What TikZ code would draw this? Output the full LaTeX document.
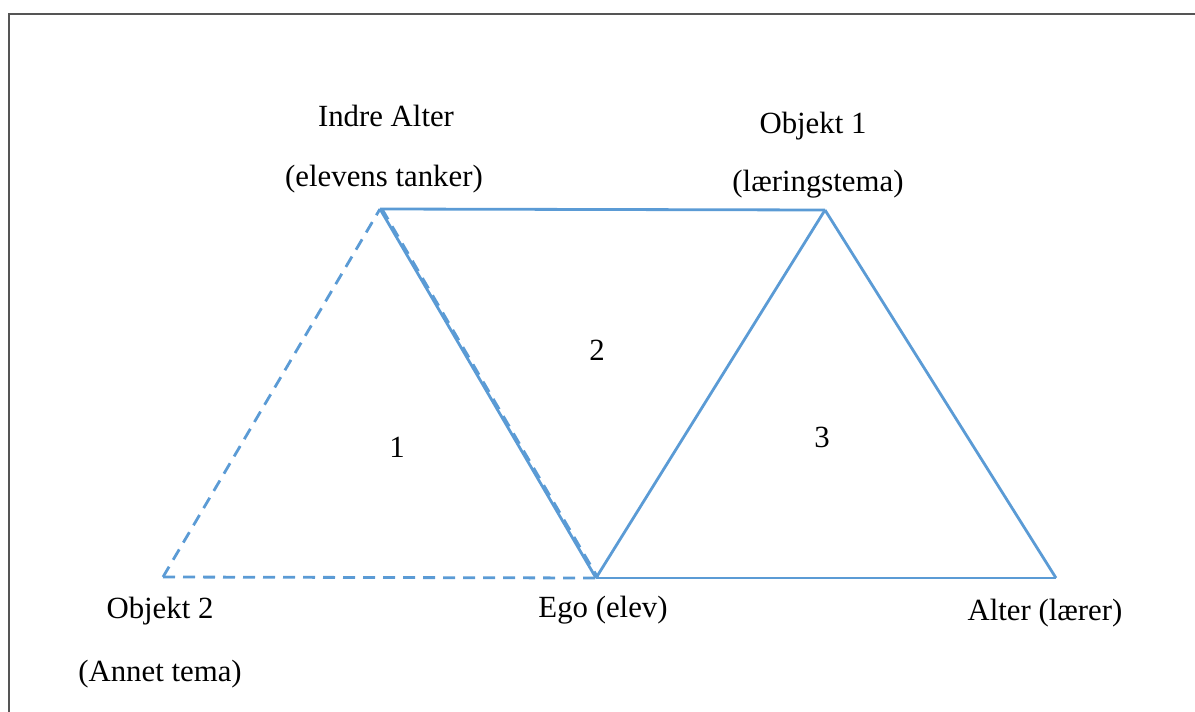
\documentclass[tikz,border=0pt]{standalone}
\usepackage{fontspec}
\setmainfont{Liberation Serif}
\definecolor{tri}{HTML}{5B9BD5}
\definecolor{frame}{HTML}{555555}
\begin{document}
\begin{tikzpicture}[x=0.5pt,y=-0.5pt,
  edge/.style={draw=tri,line width=1.4pt,line join=round},
  dashedge/.style={draw=tri,line width=1.4pt,dash pattern=on 6pt off 4pt},
  lbl/.style={font=\fontsize{15.4}{18}\selectfont,inner sep=0pt,text=black}]
\useasboundingbox (0,0) rectangle (1195,712);
\draw[frame,line width=0.8pt] (1195,14) -- (9,14) -- (9,712);
% vertices
\coordinate (A) at (380,209);
\coordinate (O1) at (825,210);
\coordinate (E) at (596,578);
\coordinate (L) at (1056,578);
\coordinate (O2) at (163,577);
% dashed triangle 1
\draw[dashedge] (O2) -- (A);
\draw[dashedge] (O2) -- (E);
\draw[dashedge] ([xshift=1pt]A) -- ([xshift=1pt]E);
% solid edges
\draw[edge] (A) -- (O1);
\draw[edge] (A) -- (E);
\draw[edge] (O1) -- (E);
\draw[edge] (O1) -- (L);
\draw[edge] (E) -- (L);
% labels
\node[lbl] (tA1) at (386,116) {Indre Alter};
\node[lbl] (tA2) at (384,179) {(elevens tanker)};
\node[lbl] (tO11) at (813,126) {Objekt 1};
\node[lbl] (tO12) at (818,184) {(læringstema)};
\node[lbl] (tO21) at (160,611) {Objekt 2};
\node[lbl] (tO22) at (160,674) {(Annet tema)};
\node[lbl] (tE) at (603,610) {Ego (elev)};
\node[lbl] (tL) at (1045,613) {Alter (lærer)};
\node[lbl] (n1) at (397,447) {1};
\node[lbl] (n2) at (597,350) {2};
\node[lbl] (n3) at (822,437) {3};
\end{tikzpicture}
\end{document}
